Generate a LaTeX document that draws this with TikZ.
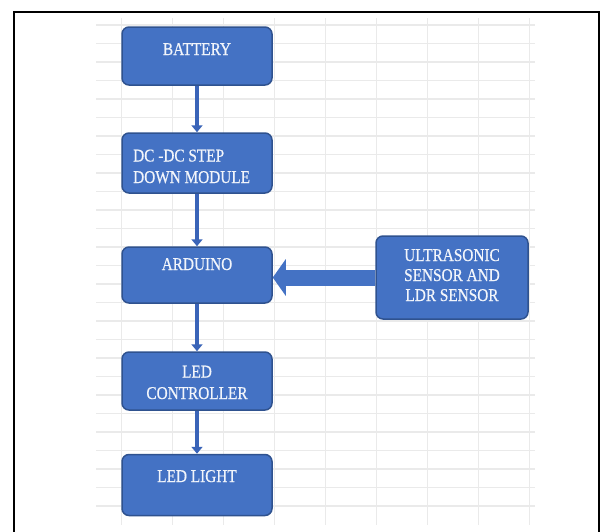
\documentclass[tikz,border=0pt]{standalone}
\usepackage{fontspec}
\setmainfont{Liberation Serif}
\newfontfamily\boxfont[FakeStretch=0.85,FakeBold=0.5]{Liberation Serif}
\usetikzlibrary{arrows.meta}
\definecolor{blockfill}{HTML}{4472C4}
\definecolor{blockedge}{HTML}{2F528F}
\definecolor{flowline}{HTML}{3A64B8}
\definecolor{gridline}{HTML}{EAEAEA}
\definecolor{labelwhite}{HTML}{F2F5FB}
\tikzset{
  block/.style={draw=blockedge, fill=blockfill, line width=1.5pt,
    rounded corners=7pt, minimum width=150pt, inner sep=0pt},
  lbl/.style={text=labelwhite, inner sep=0pt,
    font=\boxfont\fontsize{18}{21.5}\selectfont},
  flow/.style={draw=flowline, line width=4.5pt,
    -{Triangle[length=7pt,width=11pt]}},
  bigflow/.style={draw=blockfill, line width=16pt,
    -{Triangle[length=13pt,width=36pt]}},
  gridrule/.style={draw=gridline, line width=1.3pt}
}
\begin{document}
\begin{tikzpicture}[x=1pt,y=-1pt]
\useasboundingbox (0,0) rectangle (603,531);
\fill[white] (0,0) rectangle (603,531);

% spreadsheet grid behind the chart
\foreach \k in {0,...,26}
  \draw[gridrule] (96,25+18.5*\k) -- (535,25+18.5*\k);
\foreach \k in {0,...,8}
  \draw[gridrule] (121.5+51*\k,18) -- (121.5+51*\k,525);

% outer frame (open at the bottom edge)
\draw[black, line width=2.6pt] (14,540) -- (14,12) -- (599,12) -- (599,540);

% blocks
\node[block, minimum height=58pt] (bat)  at (197,56)  {};
\node[block, minimum height=60pt] (dc)   at (197,163) {};
\node[block, minimum height=56pt] (ard)  at (197,275) {};
\node[block, minimum height=58pt] (ctl)  at (197,381) {};
\node[block, minimum height=61pt] (lamp) at (197,485) {};
\node[block, minimum width=152pt, minimum height=83pt] (sens) at (452,277.5) {};

% block labels (multi-line labels sit on the baseline of their last line)
\node[lbl, anchor=base] (batT) at (197,55) {BATTERY};
\node[lbl, anchor=base west, align=left] (dcT) at (133,183) {DC -DC STEP\\DOWN MODULE};
\node[lbl, anchor=base] (ardT) at (197,270) {ARDUINO};
\node[lbl, anchor=base, align=center] (sensT) at (452,301) {ULTRASONIC\\[-1.5pt]SENSOR AND\\[-1.5pt]LDR SENSOR};
\node[lbl, anchor=base, align=center] (ctlT) at (197,399) {LED\\CONTROLLER};
\node[lbl, anchor=base] (lampT) at (197,482) {LED LIGHT};

% connectors
\draw[flow] (bat.south) -- (dc.north);
\draw[flow] (dc.south) -- (ard.north);
\draw[flow] (ard.south) -- (ctl.north);
\draw[flow] (ctl.south) -- (lamp.north);
\draw[bigflow] (sens.west) -- (sens.west -| ard.east);
\end{tikzpicture}
\end{document}
